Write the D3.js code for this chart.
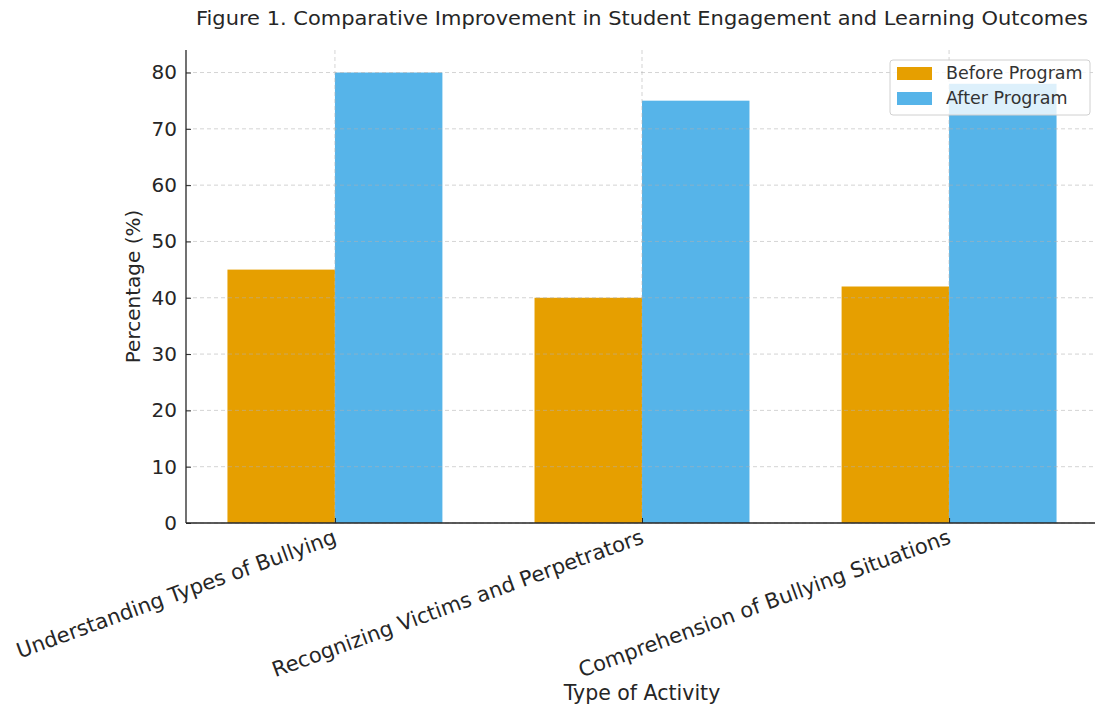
<!DOCTYPE html>
<html>
<head>
<meta charset="utf-8">
<script src="https://cdn.jsdelivr.net/npm/d3@7"></script>
<style>
  body { margin: 0; background: #fff; }
  svg text { font-family: "DejaVu Sans", sans-serif; fill: #262626; }
</style>
</head>
<body>
<svg id="chart" width="1095" height="708"></svg>
<script>
const categories = ['Understanding Types of Bullying', 'Recognizing Victims and Perpetrators', 'Comprehension of Bullying Situations'];
const beforeValues = [45, 40, 42];
const afterValues = [80, 75, 78];
const seriesNames = ['Before Program', 'After Program'];
const yTicks = [0, 10, 20, 30, 40, 50, 60, 70, 80];

const colors = ['#E69F00', '#56B4E9'];
const barW = 0.35;

const svg = d3.select('#chart');
const plotL = 186, plotR = 1098, plotT = 50, plotB = 523;

const x = d3.scaleLinear().domain([-0.485, 2.485]).range([plotL, plotR]);
const y = d3.scaleLinear().domain([0, 84]).range([plotB, plotT]);

const series = [beforeValues, afterValues];
const g = svg.append('g');

// bars
series.forEach((vals, s) => {
    g.append('g')
        .selectAll('rect')
        .data(vals)
        .enter()
        .append('rect')
        .attr('x', (d, i) => x(i + (s === 0 ? -barW : 0)))
        .attr('width', x(barW) - x(0))
        .attr('y', d => y(d))
        .attr('height', d => y(0) - y(d))
        .style('fill', colors[s]);
});

// grid (drawn above bars, translucent)
const grid = g.append('g').style('stroke', '#b0b0b0').style('stroke-opacity', 0.55)
    .style('stroke-dasharray', '4,3').style('stroke-width', '1px');
grid.selectAll('.hg').data(yTicks).enter().append('line')
    .attr('x1', plotL).attr('x2', plotR)
    .attr('y1', d => y(d)).attr('y2', d => y(d));
grid.selectAll('.vg').data(categories).enter().append('line')
    .attr('x1', (d, i) => x(i)).attr('x2', (d, i) => x(i))
    .attr('y1', plotT).attr('y2', plotB);

// axes (ticks point inward like the original)
const yAxis = g.append('g')
    .attr('transform', 'translate(' + plotL + ',0)')
    .call(d3.axisLeft(y).tickValues(yTicks).tickSize(-5).tickPadding(9));
yAxis.select('.domain').attr('d', 'M0,' + plotT + 'V' + plotB).style('stroke', '#262626').style('stroke-width', '1.3px');
yAxis.selectAll('.tick line').style('stroke', '#262626');
yAxis.selectAll('.tick text').style('font-size', '20px').style('font-family', 'DejaVu Sans').style('fill', '#262626');

const xAxis = g.append('g')
    .attr('transform', 'translate(0,' + plotB + ')')
    .call(d3.axisBottom(x).tickValues([0, 1, 2]).tickFormat(i => categories[i]).tickSize(-5).tickPadding(6));
xAxis.select('.domain').attr('d', 'M' + plotL + ',0H' + plotR).style('stroke', '#262626').style('stroke-width', '1.3px');
xAxis.selectAll('.tick line').style('stroke', '#262626');
xAxis.selectAll('.tick text')
    .style('font-size', '21px').style('font-family', 'DejaVu Sans').style('fill', '#262626')
    .attr('text-anchor', 'end')
    .attr('dy', '0.9em')
    .attr('transform', 'translate(-4,2) rotate(-20)')
    .attr('y', 0).attr('x', 0);

// axis labels
svg.append('text')
    .attr('x', (plotL + plotR) / 2).attr('y', 700)
    .attr('text-anchor', 'middle')
    .style('font-size', '20.5px')
    .text('Type of Activity');

svg.append('text')
    .attr('transform', 'translate(140,' + (plotT + plotB) / 2 + ') rotate(-90)')
    .attr('text-anchor', 'middle')
    .style('font-size', '20px')
    .text('Percentage (%)');

// title
svg.append('text')
    .attr('x', 196).attr('y', 25)
    .attr('textLength', 892)
    .attr('lengthAdjust', 'spacingAndGlyphs')
    .style('font-size', '20px')
    .text('Figure 1. Comparative Improvement in Student Engagement and Learning Outcomes');

// legend
const legend = svg.append('g').attr('transform', 'translate(890,60)');
legend.append('rect')
    .attr('width', 200).attr('height', 55)
    .attr('rx', 3)
    .style('fill', '#fff').style('fill-opacity', 0.8)
    .style('stroke', '#d0d0d0');
seriesNames.forEach((name, i) => {
    legend.append('rect')
        .attr('x', 7).attr('y', 7 + i * 25)
        .attr('width', 35).attr('height', 13)
        .style('fill', colors[i]);
    legend.append('text')
        .attr('x', 56).attr('y', 19 + i * 25)
        .style('font-size', '17.5px')
        .style('fill', '#333')
        .text(name);
});
</script>
</body>
</html>
